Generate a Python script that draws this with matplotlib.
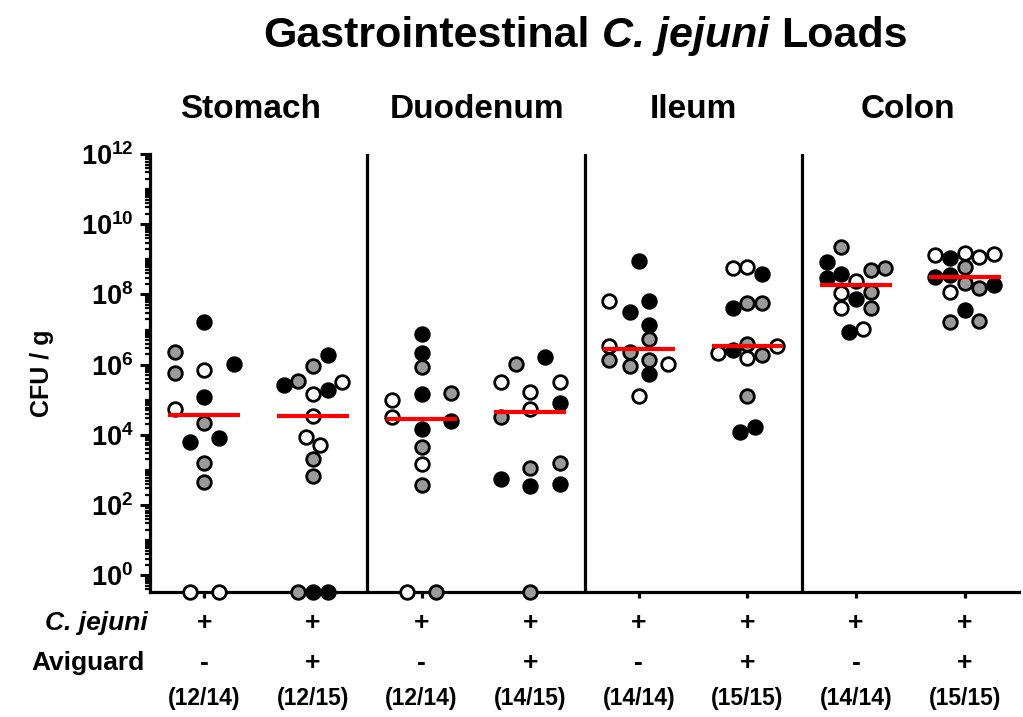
import numpy as np
import matplotlib
matplotlib.use("Agg")
import matplotlib.pyplot as plt
import matplotlib.transforms as mtransforms
from matplotlib.ticker import FixedLocator, LogLocator, FuncFormatter, NullFormatter

plt.rcParams['font.family'] = ['Liberation Sans', 'DejaVu Sans']
plt.rcParams['font.weight'] = 'bold'
plt.rcParams['mathtext.fontset'] = 'custom'
plt.rcParams['mathtext.rm'] = 'Liberation Sans:bold'
plt.rcParams['mathtext.bf'] = 'Liberation Sans:bold'
plt.rcParams['mathtext.it'] = 'Liberation Sans:bold:italic'

# ---------------- data (log10 CFU/g; nan = below detection) ----------------
organs = ['Stomach', 'Duodenum', 'Ileum', 'Colon']
cjejuni_row = ['+', '+', '+', '+', '+', '+', '+', '+']
aviguard_row = ['-', '+', '-', '+', '-', '+', '-', '+']
fractions = ['(12/14)', '(12/15)', '(12/14)', '(14/15)',
             '(14/14)', '(15/15)', '(14/14)', '(15/15)']

ND = np.nan
stomach_neg = [7.22, 6.35, 5.75, 5.86, 6.01, 5.07, 4.73, 4.34, 3.80, 3.91, 3.20, 2.66, ND, ND]
stomach_neg_fill = 'kggwkkwgkkggww'
stomach_pos = [6.27, 5.96, 5.42, 5.53, 5.51, 5.16, 5.27, 4.53, 3.94, 3.71, 3.31, 2.82, ND, ND, ND]
stomach_pos_fill = 'kgkgwwkwwwgggkk'
duodenum_neg = [6.87, 6.34, 5.92, 4.99, 5.15, 5.18, 4.51, 4.40, 4.18, 3.66, 3.18, 2.58, ND, ND]
duodenum_neg_fill = 'kkgwkgwkkgwgwg'
duodenum_pos = [6.22, 6.03, 5.51, 5.51, 5.23, 4.75, 4.91, 4.51, 2.73, 3.06, 2.54, 3.20, 2.61, ND]
duodenum_pos_fill = 'kgwwwwkgkgkgkg'
ileum_neg = [8.95, 7.81, 7.81, 7.49, 7.13, 6.72, 6.53, 6.37, 6.13, 5.97, 6.13, 6.01, 5.72, 5.10]
ileum_neg_fill = 'kwkkkgwggggwkw'
ileum_pos = [8.74, 8.77, 8.58, 7.60, 7.75, 7.75, 6.41, 6.34, 6.60, 6.53, 6.18, 6.27, 5.10, 4.09, 4.23]
ileum_pos_fill = 'wwkkggkwgwwggkk'
colon_neg = [9.34, 8.93, 8.47, 8.57, 8.39, 8.71, 8.74, 8.05, 7.87, 8.06, 7.60, 7.60, 6.92, 7.01]
colon_neg_fill = 'gkkkwggwkgwgkw'
colon_pos = [9.12, 9.03, 9.17, 9.07, 9.15, 8.77, 8.50, 8.55, 8.32, 8.17, 8.27, 8.08, 7.57, 7.22, 7.25]
colon_pos_fill = 'wkwwwgkkggkwkgg'

# swarm column of each point (layout, in marker steps from group centre)
stomach_neg_col = [0, -2, -2, 0, 2, 0, -2, 0, -1, 1, 0, 0, -1, 1]
stomach_pos_col = [1, 0, -2, -1, 2, 0, 1, 0, -0.5, 0.5, 0, 0, -1, 0, 1]
duodenum_neg_col = [0, 0, 0, -2, 0, 2, -2, 2, 0, 0, 0, 0, -1, 1]
duodenum_pos_col = [1, -1, -2, 2, 0, 0, 2, -2, -2, 0, 0, 2, 2, 0]
ileum_neg_col = [0, -2, 0.7, -0.6, 0.7, 0.7, -2, -0.6, -2, -0.6, 0.7, 2, 0.7, 0]
ileum_pos_col = [-1, 0, 1, -1, 0, 1, -1, -2, 0, 2, 0, 1, 0, -0.5, 0.5]
colon_neg_col = [-1, -2, -2, -1, 0, 1, 2, -1, 0, 1, -1, 1, -0.5, 0.5]
colon_pos_col = [-2, -1, 0, 1, 2, 0, -2, -1, 0, 1, 2, -1, 0, -1, 1]

groups = [
    (stomach_neg, stomach_neg_fill, stomach_neg_col),
    (stomach_pos, stomach_pos_fill, stomach_pos_col),
    (duodenum_neg, duodenum_neg_fill, duodenum_neg_col),
    (duodenum_pos, duodenum_pos_fill, duodenum_pos_col),
    (ileum_neg, ileum_neg_fill, ileum_neg_col),
    (ileum_pos, ileum_pos_fill, ileum_pos_col),
    (colon_neg, colon_neg_fill, colon_neg_col),
    (colon_pos, colon_pos_fill, colon_pos_col),
]

fill_colors = {'k': '#000000', 'g': '#9a9a9a', 'w': '#ffffff'}

# ---------------- figure ----------------
W, H = 1023, 717
fig = plt.figure(figsize=(W / 100, H / 100), dpi=100)
ax = fig.add_axes([150 / W, 1 - 592 / H, 869 / W, 438 / H])
ax.set_yscale('log')
ymin = 10 ** -0.476
ax.set_ylim(ymin, 1e12)
ax.set_xlim(0.5, 8.5)

step = 0.135
for gi, (vals, fills, cols) in enumerate(groups):
    c = gi + 1
    for v, f, k in zip(vals, fills, cols):
        y = ymin if np.isnan(v) else 10 ** v
        ax.plot(c + k * step, y, 'o', ms=9.8, mfc=fill_colors[f], mec='black',
                mew=2.0, clip_on=False, zorder=3)
    lin = np.array([0.0 if np.isnan(v) else 10 ** v for v in vals])
    med = np.median(lin)
    ax.hlines(med, c - 0.33, c + 0.33, color='#ff0000', lw=3.0, zorder=4)

for xs in (2.5, 4.5, 6.5):
    ax.axvline(xs, color='black', lw=2.3, zorder=2)

for s in ('top', 'right'):
    ax.spines[s].set_visible(False)
for s in ('left', 'bottom'):
    ax.spines[s].set_linewidth(2.3)

ax.yaxis.set_major_locator(FixedLocator([10.0 ** e for e in range(0, 13, 2)]))
ax.yaxis.set_major_formatter(FuncFormatter(
    lambda v, p: r'$\mathbf{10^{%d}}$' % int(round(np.log10(v)))))
ax.yaxis.set_minor_locator(LogLocator(base=10, subs=np.arange(1, 10), numticks=40))
ax.yaxis.set_minor_formatter(NullFormatter())
ax.tick_params(axis='y', which='major', length=7, width=2.2, labelsize=19.5, pad=5)
ax.tick_params(axis='y', which='minor', length=3.5, width=1.6)

ax.set_xticks(np.arange(1, 9))
ax.set_xticklabels([''] * 8)
ax.tick_params(axis='x', which='major', length=4, width=2.3)

trans = mtransforms.blended_transform_factory(ax.transData, fig.transFigure)
fy = lambda ypx: 1 - ypx / H

# title made of upright + italic pieces, centred over the axes
fig.canvas.draw()
renderer = fig.canvas.get_renderer()
title_parts = [('Gastrointestinal', 'normal'), ('C. jejuni', 'italic'), ('Loads', 'normal')]
tsize = 31
probe = fig.text(0, 0, 'a a', fontsize=tsize, fontweight='bold')
probe2 = fig.text(0, 0, 'aa', fontsize=tsize, fontweight='bold')
space_w = probe.get_window_extent(renderer).width - probe2.get_window_extent(renderer).width
probe.remove(); probe2.remove()
pieces = []
widths = []
for txt, style in title_parts:
    t = fig.text(0, fy(36), txt, fontsize=tsize, fontweight='bold', fontstyle=style,
                 ha='left', va='center')
    pieces.append(t)
    widths.append(t.get_window_extent(renderer).width)
total = sum(widths) + space_w * (len(pieces) - 1)
x0 = 585.5 - total / 2
for t, w in zip(pieces, widths):
    t.set_x(x0 / W)
    x0 += w + space_w

organ_x = [251, 477, 693, 908]
for name, xp in zip(organs, organ_x):
    fig.text(xp / W, fy(109), name, ha='center', va='center',
             fontsize=24, fontweight='bold')

for i in range(8):
    fig.text(i + 1, fy(623), cjejuni_row[i], transform=trans, ha='center', va='center',
             fontsize=19, fontweight='bold')
    fig.text(i + 1, fy(663), aviguard_row[i], transform=trans, ha='center', va='center',
             fontsize=19, fontweight='bold')
    fig.text(i + 1, fy(698), fractions[i], transform=trans, ha='center', va='center',
             fontsize=16.5, fontweight='bold')

fig.text(148 / W, fy(623), 'C. jejuni', ha='right', va='center', fontsize=19,
         fontweight='bold', fontstyle='italic')
fig.text(145 / W, fy(663), 'Aviguard', ha='right', va='center', fontsize=19,
         fontweight='bold')
fig.text(42 / W, fy(373), 'CFU / g', rotation=90, ha='center', va='center',
         fontsize=18, fontweight='bold')

fig.savefig('out.png', dpi=100)
